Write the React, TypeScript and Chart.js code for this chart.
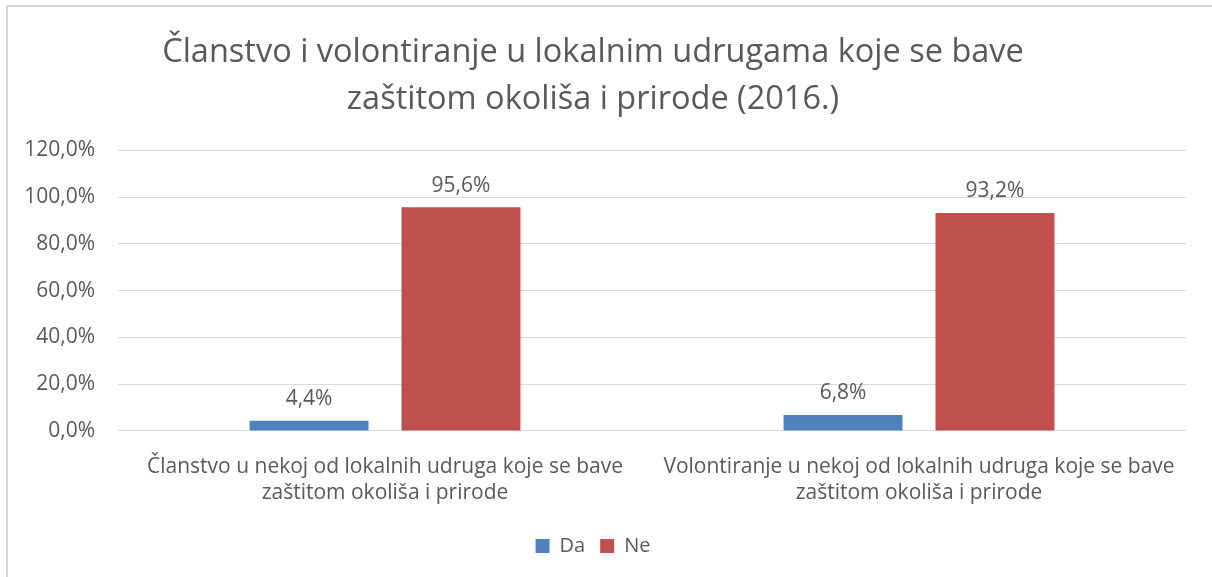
import React, { useEffect, useRef } from "react";
import { Chart, registerables } from "chart.js";

Chart.register(...registerables);

const titleLines = [
  "Članstvo i volontiranje u lokalnim udrugama koje se bave",
  "zaštitom okoliša i prirode (2016.)",
];
const categories = [
  ["Članstvo u nekoj od lokalnih udruga koje se bave", "zaštitom okoliša i prirode"],
  ["Volontiranje u nekoj od lokalnih udruga koje se bave", "zaštitom okoliša i prirode"],
];
const seriesNames = ["Da", "Ne"];
const daValues = [4.4, 6.8];
const neValues = [95.6, 93.2];
const yTicks = [0, 20, 40, 60, 80, 100, 120];

const FONT = "'Open Sans', 'Noto Sans', sans-serif";
const TEXT = "#595959";

const fmt = (v: number) => v.toFixed(1).replace(".", ",") + "%";

const dataLabelPlugin = {
  id: "dataLabels",
  afterDatasetsDraw(chart: any) {
    const ctx = chart.ctx;
    ctx.save();
    ctx.fillStyle = TEXT;
    ctx.font = `21px ${FONT}`;
    ctx.textAlign = "center";
    ctx.textBaseline = "bottom";
    chart.data.datasets.forEach((ds: any, i: number) => {
      const meta = chart.getDatasetMeta(i);
      meta.data.forEach((el: any, j: number) => {
        ctx.fillText(fmt(ds.data[j]), el.x, el.y - 11);
      });
    });
    ctx.restore();
  },
};

export default function App() {
  const ref = useRef<HTMLCanvasElement>(null);
  useEffect(() => {
    if (!ref.current) return;
    const chart = new Chart(ref.current, {
      type: "bar",
      data: {
        labels: categories as any,
        datasets: [
          {
            label: seriesNames[0],
            data: daValues,
            backgroundColor: "#4F81BD",
            categoryPercentage: 0.569,
            barPercentage: 0.783,
          },
          {
            label: seriesNames[1],
            data: neValues,
            backgroundColor: "#C0504D",
            categoryPercentage: 0.569,
            barPercentage: 0.783,
          },
        ],
      },
      options: {
        animation: false,
        responsive: false,
        maintainAspectRatio: false,
        layout: { padding: { left: 0, right: 26, top: 0, bottom: 11 } },
        plugins: {
          title: {
            display: true,
            text: titleLines,
            color: TEXT,
            font: { family: FONT, size: 32.5, weight: "normal", lineHeight: 1.45 },
            padding: { top: 29, bottom: 27 },
          },
          legend: {
            display: true,
            position: "bottom",
            labels: {
              color: TEXT,
              font: { family: FONT, size: 20 },
              boxWidth: 14,
              boxHeight: 14,
              padding: 15,
            },
          },
          tooltip: { enabled: false },
        },
        scales: {
          x: {
            grid: { display: false },
            border: { display: false },
            ticks: {
              color: TEXT,
              font: { family: FONT, size: 21, lineHeight: 1.24 },
              padding: 15,
              maxRotation: 0,
            },
          },
          y: {
            min: 0,
            max: 120,
            afterBuildTicks: (axis: any) => {
              axis.ticks = yTicks.map((v) => ({ value: v }));
            },
            afterFit: (axis: any) => {
              axis.width = 118;
            },
            grid: { color: "#D9D9D9", lineWidth: 1, drawTicks: false },
            border: { display: false },
            ticks: {
              color: TEXT,
              font: { family: FONT, size: 21 },
              padding: 23,
              callback: (v: any) => fmt(Number(v)),
            },
          },
        },
      },
      plugins: [dataLabelPlugin],
    });
    return () => chart.destroy();
  }, []);

  return (
    <div style={{ position: "absolute", left: 0, top: 0, width: 1212, height: 577, background: "#fff", overflow: "hidden" }}>
      <div
        style={{
          position: "absolute",
          left: 6,
          top: 5,
          width: 1206,
          height: 572,
          borderLeft: "2px solid #D9D9D9",
          borderTop: "2px solid #D9D9D9",
          boxSizing: "border-box",
        }}
      />
      <canvas ref={ref} width={1212} height={577} style={{ position: "absolute", left: 0, top: 0 }} />
    </div>
  );
}
